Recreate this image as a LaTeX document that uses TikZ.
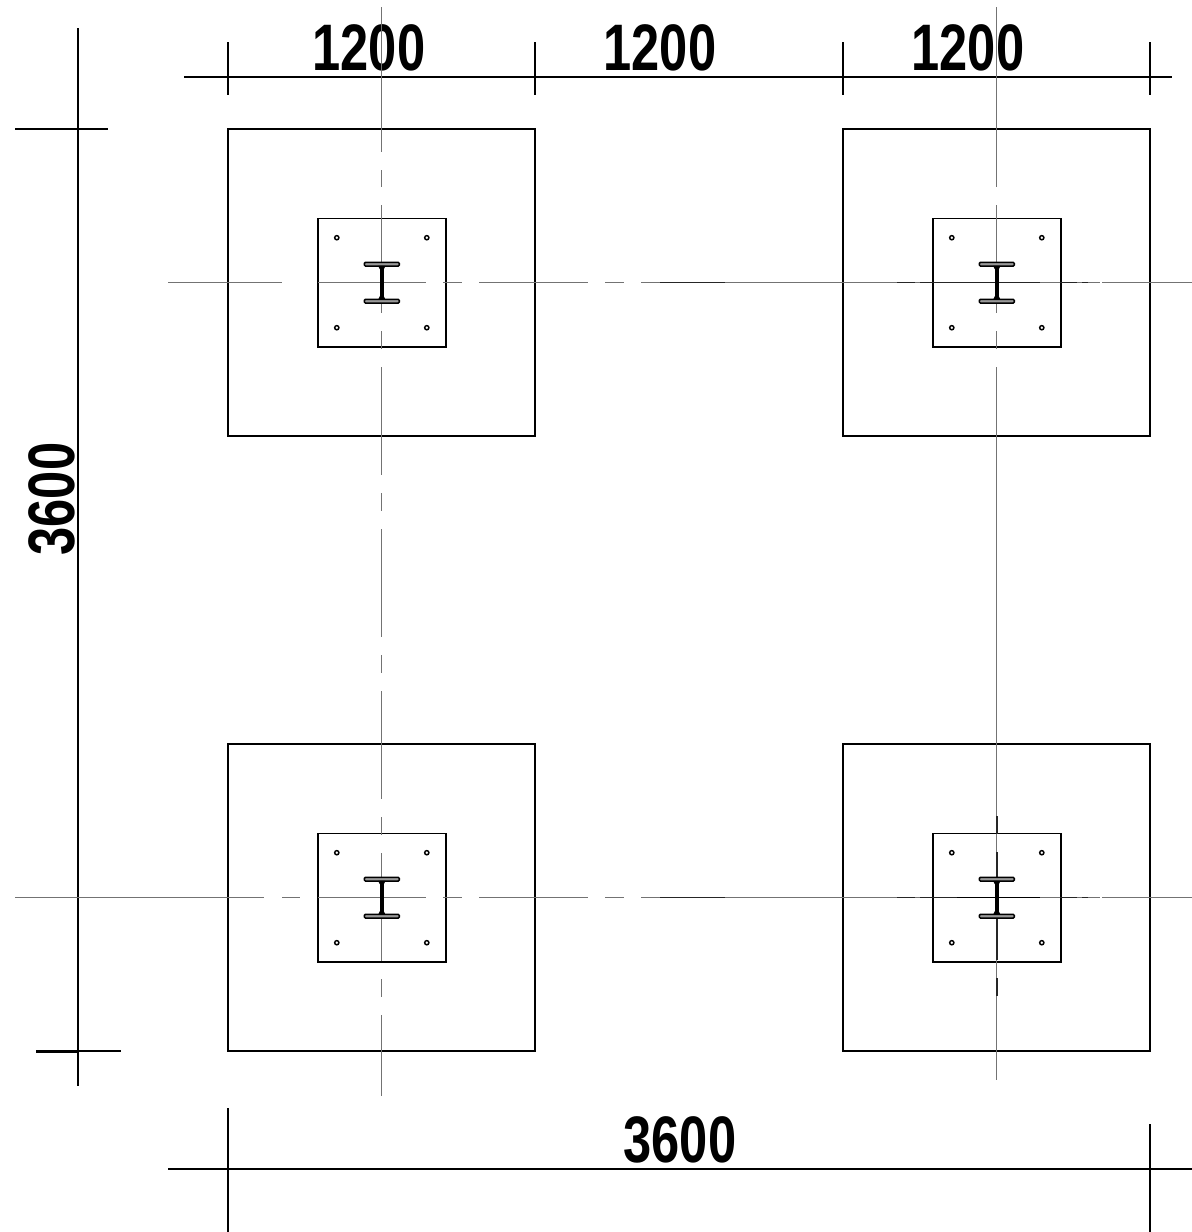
\documentclass[tikz,border=0pt]{standalone}
\usepackage{fontspec}
\setmainfont{Liberation Sans}
\tikzset{
	dimtext/.style={font=\bfseries\fontsize{18.7}{20}\selectfont,inner sep=0pt,xscale=.77},
	outline/.style={line width=.55pt,black},
	axisline/.style={line width=.38pt,black!55},
	axisdark/.style={line width=.42pt,black!85},
}
\begin{document}
\begin{tikzpicture}[x=.01cm,y=-.01cm,line join=miter,line cap=butt]
	\useasboundingbox (0,0) rectangle (1192,1232);
	\path
	(369,48) coordinate (a)
	(660,48) coordinate (b)
	(968,48) coordinate (c)
	(680,1140) coordinate (d)
	(52,499) coordinate (e)
	;
	% dimension texts
	\node[dimtext] (t1) at (a) {1200};
	\node[dimtext] (t2) at (b) {1200};
	\node[dimtext] (t3) at (c) {1200};
	\node[dimtext] (t4) at (d) {3600};
	\node[rotate=90,dimtext] (t5) at (e) {3600};
	% dimension lines
	\draw[outline] (184,77.2)--(1172,77.2);
	\foreach \x in {227.8,535.2,843.3,1150}
	\draw[outline] (\x,42)--(\x,95);
	\draw[outline] (77.8,28)--(77.8,1086);
	\draw[outline] (15,129)--(108,129);
	\draw[outline] (36,1051.3)--(121,1051.3);
	\draw[outline,line width=.75pt] (36,1051.3)--(77,1051.3);
	\draw[outline] (168,1169)--(1192,1169);
	\draw[outline] (228,1108)--(228,1232);
	\draw[outline] (1150,1124)--(1150,1232);
	% footings and base plates
	\foreach \x/\y in {381.8/282.7,996.8/282.7,381.8/897.7,996.8/897.7}{
		\draw[outline] (\x-153.8,\y-153.7) rectangle (\x+153.3,\y+153.7);
		\draw[outline] (\x-63.8,\y-64.2) rectangle (\x+64.2,\y+64.3);
	}
	% centre lines
	\foreach \s/\e in {7/152,170/187,205/313,331/349,367/475,493/511,529/637,655/673,691/799,817/835,853/961,979/997,1015/1096}
	\draw[axisline] (381.8,\s)--(381.8,\e);
	\foreach \s/\e in {7/187,205/313,331/349,367/1080}
	\draw[axisline] (996.8,\s)--(996.8,\e);
	\foreach \s/\e in {816/834,852/960,978/996}
	\draw[axisdark] (996.8,\s)--(996.8,\e);
	\foreach \y/\s in {282.7/168,897.7/15}{
		\draw[axisline] (\s,\y)--(264,\y);
		\foreach \p/\q in {318/426,443/462,479/588,605/624,641/1100,1102/1192}
		\draw[axisline] (\p,\y)--(\q,\y);
		\foreach \p/\q in {660/725,897/915,920/1040,1060/1077,1082/1088}
		\draw[axisdark] (\p,\y)--(\q,\y);
	}
	\draw[axisline] (282,897.7)--(300,897.7);
	\draw[axisline] (264,282.7)--(282,282.7);
	\draw[axisdark,black] (957,897.7)--(1040,897.7);
	% columns and bolts
	\foreach \x/\y in {381.8/282.7,996.8/282.7,381.8/897.7,996.8/897.7}{
		\foreach \i in {-45,45}
		\foreach \j in {-45,45}
		\draw[outline,line width=.42pt,fill=white] (\x+\i,\y+\j) circle (2.1);
		\foreach \j in {-18.5,18.5}
		\draw[line width=.42pt,fill=black!40,rounded corners=.3] (\x-17.5,\y+\j-1.8) rectangle (\x+17.5,\y+\j+1.8);
		\fill[black] (\x-2,\y-17) rectangle (\x+2,\y+17);
		\fill[black] (\x-3.6,\y-16.8)--(\x+3.6,\y-16.8)--(\x+2,\y-13.5)--(\x-2,\y-13.5)--cycle;
		\fill[black] (\x-3.6,\y+16.8)--(\x+3.6,\y+16.8)--(\x+2,\y+13.5)--(\x-2,\y+13.5)--cycle;
	}
\end{tikzpicture}
\end{document}
